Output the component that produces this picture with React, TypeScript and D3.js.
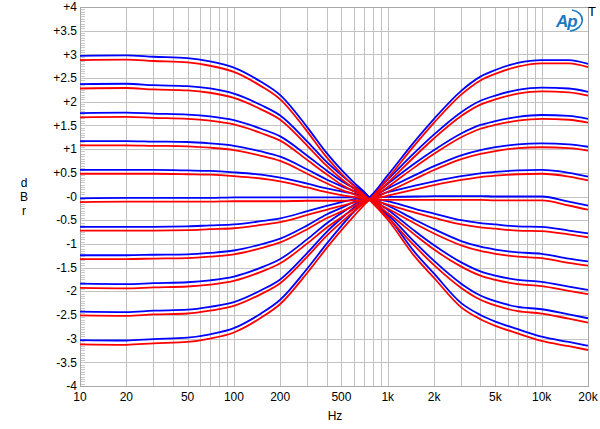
import React from "react";
import * as d3 from "d3";

const FREQS = [10, 20, 30, 50, 70, 100, 150, 200, 300, 400, 500, 600, 700, 760, 1000, 1500, 2000, 3000, 4000, 5000, 7000, 10000, 15000, 20000];

const BLUE_A = [2.97, 2.98, 2.95, 2.92, 2.85, 2.72, 2.42, 2.14, 1.46, 0.92, 0.56, 0.30, 0.10, -0.02, -0.42, -1.18, -1.63, -2.25, -2.50, -2.64, -2.80, -2.96, -3.07, -3.15];
const RED_A = [2.88, 2.89, 2.86, 2.83, 2.76, 2.63, 2.33, 2.05, 1.37, 0.83, 0.48, 0.23, 0.04, -0.07, -0.49, -1.27, -1.72, -2.34, -2.59, -2.73, -2.89, -3.05, -3.16, -3.24];
const BLUE_B = [2.37, 2.38, 2.35, 2.33, 2.28, 2.17, 1.93, 1.71, 1.16, 0.73, 0.45, 0.24, 0.08, -0.02, -0.37, -0.97, -1.36, -1.84, -2.09, -2.21, -2.33, -2.38, -2.49, -2.57];
const RED_B = [2.28, 2.29, 2.26, 2.24, 2.19, 2.08, 1.84, 1.62, 1.07, 0.65, 0.37, 0.17, 0.02, -0.07, -0.44, -1.05, -1.45, -1.93, -2.18, -2.30, -2.42, -2.47, -2.58, -2.66];
const BLUE_C = [1.76, 1.77, 1.75, 1.73, 1.69, 1.61, 1.43, 1.27, 0.86, 0.55, 0.33, 0.18, 0.06, -0.02, -0.28, -0.73, -1.03, -1.39, -1.58, -1.67, -1.76, -1.80, -1.90, -1.97];
const RED_C = [1.67, 1.68, 1.66, 1.64, 1.60, 1.52, 1.34, 1.18, 0.77, 0.47, 0.25, 0.11, 0.00, -0.07, -0.35, -0.81, -1.12, -1.48, -1.67, -1.76, -1.85, -1.89, -1.99, -2.06];
const BLUE_D = [1.17, 1.17, 1.16, 1.15, 1.12, 1.07, 0.95, 0.84, 0.57, 0.36, 0.22, 0.12, 0.04, -0.02, -0.19, -0.49, -0.69, -0.94, -1.06, -1.12, -1.18, -1.21, -1.31, -1.37];
const RED_D = [1.08, 1.08, 1.07, 1.06, 1.03, 0.98, 0.86, 0.75, 0.48, 0.28, 0.14, 0.05, -0.03, -0.07, -0.26, -0.57, -0.78, -1.03, -1.15, -1.21, -1.27, -1.30, -1.40, -1.46];
const BLUE_E = [0.56, 0.56, 0.56, 0.55, 0.54, 0.51, 0.46, 0.40, 0.27, 0.17, 0.11, 0.06, 0.02, -0.02, -0.10, -0.26, -0.36, -0.50, -0.56, -0.59, -0.63, -0.64, -0.72, -0.78];
const RED_E = [0.48, 0.48, 0.48, 0.47, 0.46, 0.43, 0.38, 0.32, 0.19, 0.09, 0.03, -0.01, -0.05, -0.07, -0.17, -0.34, -0.45, -0.59, -0.65, -0.68, -0.72, -0.73, -0.80, -0.86];
const BLUE_F = [-0.04, -0.03, -0.03, -0.03, -0.03, -0.02, -0.02, -0.02, -0.02, -0.02, -0.02, -0.02, -0.02, -0.02, -0.01, 0.00, 0.01, 0.01, 0.01, 0.00, 0.00, 0.00, -0.11, -0.19];
const RED_F = [-0.12, -0.11, -0.11, -0.11, -0.11, -0.10, -0.10, -0.10, -0.09, -0.09, -0.09, -0.08, -0.08, -0.07, -0.07, -0.07, -0.07, -0.07, -0.07, -0.08, -0.08, -0.08, -0.19, -0.28];
const BLUE_G = [-0.64, -0.64, -0.64, -0.63, -0.61, -0.59, -0.52, -0.46, -0.31, -0.20, -0.12, -0.06, -0.02, -0.02, 0.09, 0.23, 0.32, 0.43, 0.49, 0.52, 0.55, 0.56, 0.50, 0.42];
const RED_G = [-0.72, -0.72, -0.72, -0.71, -0.69, -0.67, -0.60, -0.54, -0.39, -0.28, -0.20, -0.13, -0.08, -0.07, 0.02, 0.15, 0.24, 0.35, 0.41, 0.44, 0.47, 0.48, 0.42, 0.34];
const BLUE_H = [-1.24, -1.24, -1.23, -1.22, -1.19, -1.14, -1.01, -0.89, -0.61, -0.38, -0.24, -0.12, -0.04, -0.02, 0.17, 0.45, 0.64, 0.87, 0.98, 1.04, 1.10, 1.12, 1.10, 1.05];
const RED_H = [-1.32, -1.32, -1.31, -1.30, -1.27, -1.22, -1.09, -0.97, -0.69, -0.46, -0.32, -0.20, -0.10, -0.07, 0.10, 0.37, 0.56, 0.79, 0.90, 0.96, 1.02, 1.04, 1.02, 0.97];
const BLUE_I = [-1.84, -1.85, -1.83, -1.81, -1.77, -1.69, -1.50, -1.32, -0.90, -0.57, -0.35, -0.18, -0.06, -0.02, 0.27, 0.70, 0.98, 1.33, 1.51, 1.59, 1.68, 1.72, 1.70, 1.64];
const RED_I = [-1.93, -1.94, -1.92, -1.90, -1.86, -1.78, -1.59, -1.41, -0.99, -0.66, -0.44, -0.27, -0.13, -0.07, 0.20, 0.62, 0.90, 1.25, 1.43, 1.51, 1.60, 1.64, 1.62, 1.56];
const BLUE_J = [-2.43, -2.44, -2.41, -2.39, -2.33, -2.23, -1.98, -1.75, -1.19, -0.75, -0.46, -0.24, -0.09, -0.02, 0.36, 0.93, 1.31, 1.78, 2.02, 2.13, 2.25, 2.30, 2.28, 2.21];
const RED_J = [-2.51, -2.52, -2.49, -2.47, -2.41, -2.31, -2.06, -1.83, -1.27, -0.83, -0.54, -0.32, -0.15, -0.07, 0.29, 0.85, 1.23, 1.70, 1.94, 2.05, 2.17, 2.22, 2.20, 2.13];
const BLUE_K = [-3.03, -3.04, -3.01, -2.98, -2.91, -2.78, -2.47, -2.18, -1.52, -1.00, -0.62, -0.33, -0.12, -0.02, 0.45, 1.17, 1.64, 2.23, 2.53, 2.67, 2.82, 2.88, 2.88, 2.80];
const RED_K = [-3.12, -3.13, -3.10, -3.07, -3.00, -2.87, -2.56, -2.27, -1.61, -1.09, -0.71, -0.42, -0.18, -0.07, 0.38, 1.09, 1.56, 2.15, 2.45, 2.59, 2.74, 2.81, 2.81, 2.73];

const BLUE_SERIES = [BLUE_A, BLUE_B, BLUE_C, BLUE_D, BLUE_E, BLUE_F, BLUE_G, BLUE_H, BLUE_I, BLUE_J, BLUE_K];
const RED_SERIES = [RED_A, RED_B, RED_C, RED_D, RED_E, RED_F, RED_G, RED_H, RED_I, RED_J, RED_K];

const X_TICKS = [10, 20, 50, 100, 200, 500, 1000, 2000, 5000, 10000, 20000];
const X_TICK_LABELS = ["10", "20", "50", "100", "200", "500", "1k", "2k", "5k", "10k", "20k"];
const Y_TICKS = [4, 3.5, 3, 2.5, 2, 1.5, 1, 0.5, 0, -0.5, -1, -1.5, -2, -2.5, -3, -3.5, -4];

const W = 600;
const H = 429;
const M = { left: 80, top: 7, right: 588, bottom: 386 };
const FONT = "'Liberation Sans', Arial, Helvetica, sans-serif";

function fmtY(v: number) {
  if (v > 0) return "+" + v;
  if (v === 0) return "-0";
  return String(v);
}

export default function App() {
  const x = d3.scaleLog().domain([10, 20000]).range([M.left, M.right]);
  const y = d3.scaleLinear().domain([-4, 4]).range([M.bottom, M.top]);

  const gridFreqs: number[] = [];
  for (let dec = 10; dec <= 10000; dec *= 10) {
    for (let m = 1; m <= 9; m++) {
      const f = dec * m;
      if (f > 10 && f < 20000) gridFreqs.push(f);
    }
  }
  const minorY: number[] = d3.range(-80, 81).map((i) => i * 0.05);

  const line = d3
    .line<number>()
    .x((_, i) => x(FREQS[i]))
    .y((d) => y(d))
    .curve(d3.curveMonotoneX);

  const crisp = (v: number) => Math.round(v) + 0.5;

  return (
    <svg
      width={W}
      height={H}
      style={{ position: "absolute", left: 0, top: 0, background: "#fff" }}
      fontFamily={FONT}
    >
      <rect x={0} y={0} width={W} height={H} fill="#fff" />
      <g stroke="#c2c2c2" strokeWidth={1}>
        {gridFreqs.map((f) => (
          <line key={"v" + f} x1={crisp(x(f))} x2={crisp(x(f))} y1={M.top} y2={M.bottom} />
        ))}
        {Y_TICKS.map((v) => (
          <line key={"h" + v} x1={M.left} x2={M.right} y1={crisp(y(v))} y2={crisp(y(v))} />
        ))}
      </g>
      <g stroke="#c8c8c8" strokeWidth={1}>
        {minorY.map((v, i) => (
          <line key={"m" + i} x1={M.left} x2={M.left + 5} y1={crisp(y(v))} y2={crisp(y(v))} />
        ))}
      </g>
      <rect
        x={M.left + 0.5}
        y={M.top + 0.5}
        width={M.right - M.left}
        height={M.bottom - M.top}
        fill="none"
        stroke="#a8a8a8"
        strokeWidth={1}
      />
      <g fill="none" strokeWidth={1.8} strokeLinejoin="round">
        {BLUE_SERIES.map((s, i) => (
          <path key={"b" + i} d={line(s) || ""} stroke="#0000ff" />
        ))}
        {RED_SERIES.map((s, i) => (
          <path key={"r" + i} d={line(s) || ""} stroke="#ff0000" />
        ))}
      </g>
      <g fontSize={12} fill="#000" textAnchor="end">
        {Y_TICKS.map((v) => (
          <text key={"yl" + v} x={77} y={y(v)} dy="0.35em">
            {fmtY(v)}
          </text>
        ))}
      </g>
      <g fontSize={12} fill="#000" textAnchor="middle">
        {X_TICKS.map((f, i) => (
          <text key={"xl" + f} x={x(f)} y={401}>
            {X_TICK_LABELS[i]}
          </text>
        ))}
      </g>
      <text x={335} y={420} fontSize={12} textAnchor="middle">
        Hz
      </text>
      <g fontSize={12} textAnchor="middle">
        <text x={24} y={187}>d</text>
        <text x={24} y={201}>B</text>
        <text x={24} y={215}>r</text>
      </g>
      <text x={592} y={16} fontSize={13} textAnchor="middle">
        T
      </text>
      <g>
        <text
          x={556}
          y={27}
          fontSize={17}
          fontStyle="italic"
          fontWeight="bold"
          fill="#1b7ac0"
          letterSpacing={-1}
        >
          Ap
        </text>
        <path
          d="M572,10 C586,12 586,29 570,31"
          fill="none"
          stroke="#1b7ac0"
          strokeWidth={1.6}
        />
      </g>
    </svg>
  );
}
